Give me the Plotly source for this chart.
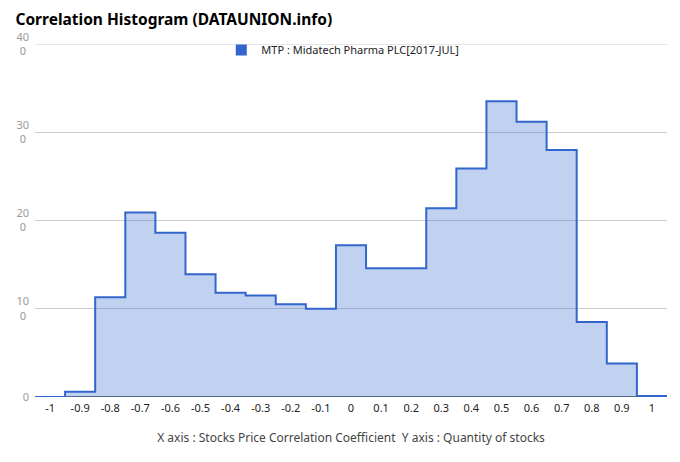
import plotly.graph_objects as go

centers = [-1.0, -0.9, -0.8, -0.7, -0.6, -0.5, -0.4, -0.3, -0.2, -0.1, 0.0,
           0.1, 0.2, 0.3, 0.4, 0.5, 0.6, 0.7, 0.8, 0.9, 1.0]
counts = [0, 6, 113, 209, 186, 139, 118, 115, 105, 100, 172,
          146, 146, 214, 259, 335, 312, 280, 85, 38, 1]
x_ticks = [-1, -0.9, -0.8, -0.7, -0.6, -0.5, -0.4, -0.3, -0.2, -0.1, 0,
           0.1, 0.2, 0.3, 0.4, 0.5, 0.6, 0.7, 0.8, 0.9, 1]
x_tick_labels = ["-1", "-0.9", "-0.8", "-0.7", "-0.6", "-0.5", "-0.4", "-0.3", "-0.2", "-0.1", "0",
                 "0.1", "0.2", "0.3", "0.4", "0.5", "0.6", "0.7", "0.8", "0.9", "1"]
y_ticks = [0, 100, 200, 300, 400]
y_tick_labels = ["0", "10<br>0\u00a0", "20<br>0\u00a0", "30<br>0\u00a0", "40<br>0\u00a0"]
series_name = "MTP : Midatech Pharma PLC[2017-JUL]"

half = 0.05
edges = [c - half for c in centers] + [centers[-1] + half]
step_vals = counts + [counts[-1]]

fig = go.Figure()
fig.add_trace(go.Scatter(
    x=edges, y=step_vals, mode="lines", line_shape="hv",
    line=dict(color="#3366cc", width=2),
    fill="tozeroy", fillcolor="rgba(51,102,204,0.30)",
    name=series_name, showlegend=False,
))
# legend marker
fig.add_trace(go.Scatter(
    x=[None], y=[None], mode="markers",
    marker=dict(symbol="square", size=11, color="#3366cc"),
    name=series_name, showlegend=True,
))

fig.update_layout(
    width=680, height=462,
    margin=dict(l=27, r=21, t=36, b=73, autoexpand=False),
    paper_bgcolor="white", plot_bgcolor="white",
    font=dict(family="Noto Sans, Open Sans, sans-serif", size=11, color="#222"),
    title=dict(text="<b>Correlation Histogram (DATAUNION.info)</b>",
               x=0.011, xanchor="left", y=1 - 11.5 / 462, yanchor="middle",
               font=dict(size=15.5, color="#000")),
    legend=dict(orientation="h", x=0.487, xanchor="center", y=0.983, yanchor="middle",
                font=dict(size=11, color="#222"), bgcolor="rgba(0,0,0,0)",
                itemwidth=30),
    xaxis=dict(range=[-1.05, 1.05], tickvals=x_ticks, ticktext=x_tick_labels,
               showgrid=False, zeroline=False, ticks="",
               tickfont=dict(size=11, color="#222"), ticklabelstandoff=3,
               title=dict(text="X axis : Stocks Price Correlation Coefficient  Y axis : Quantity of stocks",
                          font=dict(size=12, color="#444"), standoff=19)),
    yaxis=dict(range=[0, 400], tickvals=y_ticks, ticktext=y_tick_labels,
               showgrid=True, gridcolor="#cccccc", zeroline=False, automargin=False,
               showline=False, ticks="", tickfont=dict(size=11, color="#999"),
               ticklabelstandoff=5),
    shapes=[
        dict(type="line", xref="paper", yref="y", x0=0, x1=1, y0=400, y1=400,
             layer="below", line=dict(color="#cccccc", width=1)),
        dict(type="line", xref="paper", yref="y", x0=0, x1=1, y0=0, y1=0,
             layer="below", line=dict(color="#333", width=1.5)),
    ],
)

fig.write_html("out.html")
